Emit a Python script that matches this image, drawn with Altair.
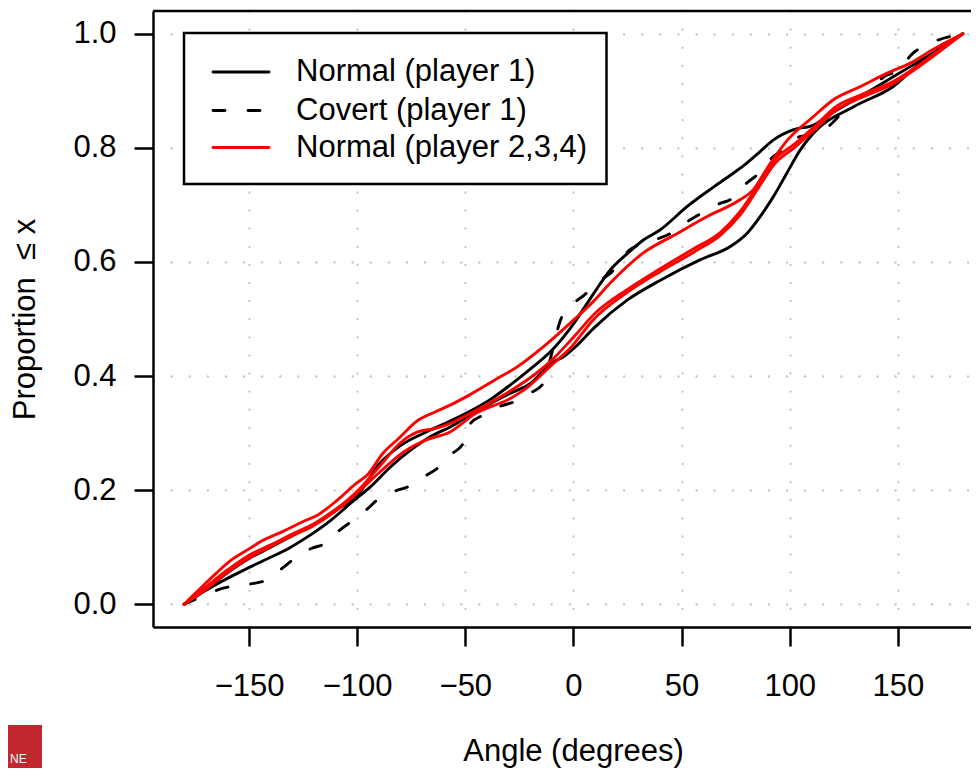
import altair as alt
import pandas as pd

FONT = "Liberation Sans"

# ---- axes -----------------------------------------------------------
X_TICKS = [-150, -100, -50, 0, 50, 100, 150]
Y_TICKS = [0.0, 0.2, 0.4, 0.6, 0.8, 1.0]
X_DOMAIN = [-194.4, 183.8]
Y_DOMAIN = [-0.04, 1.04]

SERIES = ["Normal (player 1)", "Covert (player 1)", "Normal (player 2,3,4)"]

# ---- Normal (player 1), two curves ------------------------------------
N1A_X = [-180, -172, -160, -150, -140, -130, -120, -110, -100, -90, -80, -68, -57, -47,
         -38, -29, -20, -10, -1.4, 9.4, 17, 25, 32.5, 40, 52.5, 65, 74, 80, 86.4, 92.5,
         101.8, 111, 117, 132.6, 148, 163.4, 172, 180]
N1A_Y = [0, 0.02, 0.055, 0.08, 0.10, 0.12, 0.14, 0.165, 0.19, 0.245, 0.278, 0.302, 0.321, 0.34,
         0.36, 0.385, 0.412, 0.445, 0.484, 0.545, 0.586, 0.615, 0.639, 0.656, 0.697, 0.732, 0.756,
         0.773, 0.794, 0.814, 0.832, 0.84, 0.855, 0.89, 0.925, 0.96, 0.98, 1.0]

N1B_X = [-180, -172.3, -164.6, -152.3, -143, -130.7, -123, -112.2, -103, -93.8, -84.5, -75.3,
         -66, -56.8, -47.6, -38.3, -29.1, -19.9, -10.6, -4.5, 2, 9.4, 24.8, 40.2, 58.7, 72.5,
         80.2, 86.4, 92.5, 98.7, 104.8, 111, 129.5, 148, 160.3, 171, 180]
N1B_Y = [0, 0.019, 0.036, 0.06, 0.077, 0.10, 0.118, 0.147, 0.177, 0.206, 0.241, 0.27,
         0.294, 0.311, 0.332, 0.352, 0.37, 0.387, 0.422, 0.434, 0.455, 0.484, 0.533, 0.568, 0.604, 0.627,
         0.65, 0.68, 0.715, 0.756, 0.796, 0.826, 0.872, 0.908, 0.949, 0.978, 1.0]

# ---- Covert (player 1) -------------------------------------------------
COV_X = [-180, -172, -162, -150, -142, -134, -129, -121, -115, -108, -103, -95, -91, -82, -77,
         -68, -63, -56, -51, -47.6, -42, -34, -28, -19, -14, -10, -6, 0, 5, 12.5, 17, 26, 32, 40,
         45, 54, 59, 68, 72.5, 80, 85, 92.5, 96, 105, 113, 120, 129.5, 134, 145, 149.5, 157, 162, 180]
COV_Y = [0, 0.013, 0.028, 0.035, 0.042, 0.065, 0.08, 0.098, 0.106, 0.13, 0.144, 0.168, 0.182, 0.199,
         0.205, 0.226, 0.238, 0.264, 0.282, 0.317, 0.331, 0.347, 0.354, 0.372, 0.387, 0.44, 0.498,
         0.527, 0.542, 0.568, 0.58, 0.621, 0.633, 0.642, 0.65, 0.674, 0.685, 0.703, 0.709, 0.738,
         0.753, 0.785, 0.794, 0.82, 0.823, 0.845, 0.884, 0.893, 0.928, 0.934, 0.966, 0.978, 1.0]

# ---- Normal (player 2,3,4) --------------------------------------------
R2_X = [-180, -174, -165, -158, -150, -145, -134, -125, -118, -109, -101, -95, -88, -81, -72,
        -64, -57, -48, -35, -26, -14, 0, 9, 17, 32, 48, 62, 77, 83, 90, 99, 111, 120, 133, 145,
        156, 166, 180]
R2_Y = [0, 0.022, 0.055, 0.078, 0.097, 0.109, 0.128, 0.145, 0.157, 0.183, 0.21, 0.228, 0.265, 0.29,
        0.322, 0.337, 0.349, 0.367, 0.396, 0.416, 0.451, 0.498, 0.53, 0.563, 0.615, 0.65, 0.68,
        0.709, 0.726, 0.767, 0.814, 0.855, 0.884, 0.908, 0.931, 0.949, 0.972, 1.0]

R3_X = [-180, -172, -160, -150, -140, -130, -120, -110, -100, -90, -80, -72, -64, -57, -50, -40,
        -30, -20, -10, 0, 10, 25, 40, 55, 68, 77, 86, 93, 102, 111, 122, 133, 148, 160, 170, 180]
R3_Y = [0, 0.024, 0.06, 0.086, 0.104, 0.123, 0.141, 0.166, 0.198, 0.24, 0.283, 0.302, 0.308, 0.317,
        0.33, 0.35, 0.372, 0.397, 0.428, 0.468, 0.51, 0.552, 0.588, 0.622, 0.652, 0.688, 0.738,
        0.779, 0.806, 0.836, 0.874, 0.893, 0.917, 0.946, 0.974, 1.0]

R4_X = [-180, -172, -160, -150, -140, -130, -120, -110, -100, -90, -78, -68, -57, -45, -29, -21,
        -11, -1, 9, 25, 40, 56, 68, 77, 86, 93, 102, 111, 122, 133, 148, 160, 170, 180]
R4_Y = [0, 0.02, 0.056, 0.081, 0.101, 0.12, 0.138, 0.163, 0.195, 0.23, 0.268, 0.288, 0.302, 0.335,
        0.361, 0.381, 0.416, 0.451, 0.498, 0.547, 0.583, 0.618, 0.647, 0.682, 0.733, 0.772, 0.80,
        0.83, 0.868, 0.888, 0.913, 0.943, 0.971, 1.0]


def curve_frame(curve, series, xs, ys):
    return pd.DataFrame({"angle": xs, "prop": ys, "curve": curve, "series": series})


black_df = pd.concat([curve_frame("p1a", SERIES[0], N1A_X, N1A_Y),
                      curve_frame("p1b", SERIES[0], N1B_X, N1B_Y)])
cov_df = curve_frame("cov", SERIES[1], COV_X, COV_Y)
red_df = pd.concat([curve_frame("p2", SERIES[2], R2_X, R2_Y),
                    curve_frame("p3", SERIES[2], R3_X, R3_Y),
                    curve_frame("p4", SERIES[2], R4_X, R4_Y)])

W, H = 818, 616
GRID = dict(grid=True, gridDash=[0.1, 18], gridCap="round", gridWidth=2.3, gridColor="#c4c4c4")
COMMON = dict(domainColor="black", domainWidth=2.5, tickColor="black", tickWidth=2.5, tickSize=19,
              labelFont=FONT, labelFontSize=31, labelColor="black", labelFlush=False,
              labelOverlap=False, titleFont=FONT, titleFontSize=31, titleFontWeight="normal",
              titleColor="black", titleAlign="center", titleBaseline="alphabetic")

x_enc = alt.X("angle:Q", scale=alt.Scale(domain=X_DOMAIN, nice=False, zero=False),
              axis=alt.Axis(values=X_TICKS, format="d", title="Angle (degrees)",
                            labelPadding=49, labelBaseline="alphabetic",
                            titleX=420, titleY=133, **GRID, **COMMON))
y_enc = alt.Y("prop:Q", scale=alt.Scale(domain=Y_DOMAIN, nice=False, zero=False),
              axis=alt.Axis(values=Y_TICKS, format=".1f", title="Proportion\u00a0 \u2264 x",
                            labelPadding=18, labelBaseline="middle", titleAngle=270,
                            titleX=-119, titleY=308, **GRID, **COMMON))

line_kw = dict(strokeWidth=2.9, interpolate="monotone", strokeCap="round", strokeJoin="round")

black = alt.Chart(black_df).mark_line(color="black", **line_kw).encode(
    x=x_enc, y=y_enc, detail="curve:N")
covert = alt.Chart(cov_df).mark_line(color="black", strokeDash=[12, 23], **line_kw).encode(
    x=x_enc, y=y_enc, detail="curve:N")
red = alt.Chart(red_df).mark_line(color="#ff0000", **line_kw).encode(
    x=x_enc, y=y_enc, detail="curve:N")

# ---- legend (drawn as a boxed key, like R's legend()) -----------------
legend_box = alt.Chart().mark_rect(fill="white", stroke="black", strokeWidth=2.5).encode(
    x=alt.value(31), x2=alt.value(453.5), y=alt.value(22), y2=alt.value(173))
ROW_Y = [61, 99.5, 136.5]
LEG_COL = ["black", "black", "#ff0000"]
LEG_DASH = [[1, 0], [12, 23], [1, 0]]
legend_layers = [legend_box]
for lab, col, dash, ry in zip(SERIES, LEG_COL, LEG_DASH, ROW_Y):
    legend_layers.append(
        alt.Chart().mark_rule(color=col, strokeWidth=2.9, strokeDash=dash, strokeCap="round").encode(
            x=alt.value(60), x2=alt.value(116), y=alt.value(ry)))
    legend_layers.append(
        alt.Chart().mark_text(font=FONT, fontSize=31, color="black", align="left",
                              baseline="middle").encode(
            x=alt.value(143), y=alt.value(ry), text=alt.value(lab)))

top_border = alt.Chart().mark_rule(color="black", strokeWidth=2.5).encode(
    x=alt.value(0), x2=alt.value(W), y=alt.value(0))

# partial logo at the lower-left corner of the image
logo = alt.Chart().mark_rect(fill="#c1272d").encode(
    x=alt.value(-153), x2=alt.value(-111), y=alt.value(714), y2=alt.value(760))
logo_txt = alt.Chart().mark_text(font=FONT, fontSize=12, color="white", align="left",
                                 baseline="alphabetic").encode(
    x=alt.value(-143), y=alt.value(752), text=alt.value("NE"))

chart = alt.layer(black, covert, red, *legend_layers, top_border, logo, logo_txt).properties(
    width=W, height=H,
    autosize=alt.AutoSizeParams(type="none"),
    padding={"left": 145, "top": 3, "right": 0, "bottom": 141},
    background="white",
).configure_view(stroke=None)

chart.save("out.html", embed_options={"renderer": "svg", "actions": False})
